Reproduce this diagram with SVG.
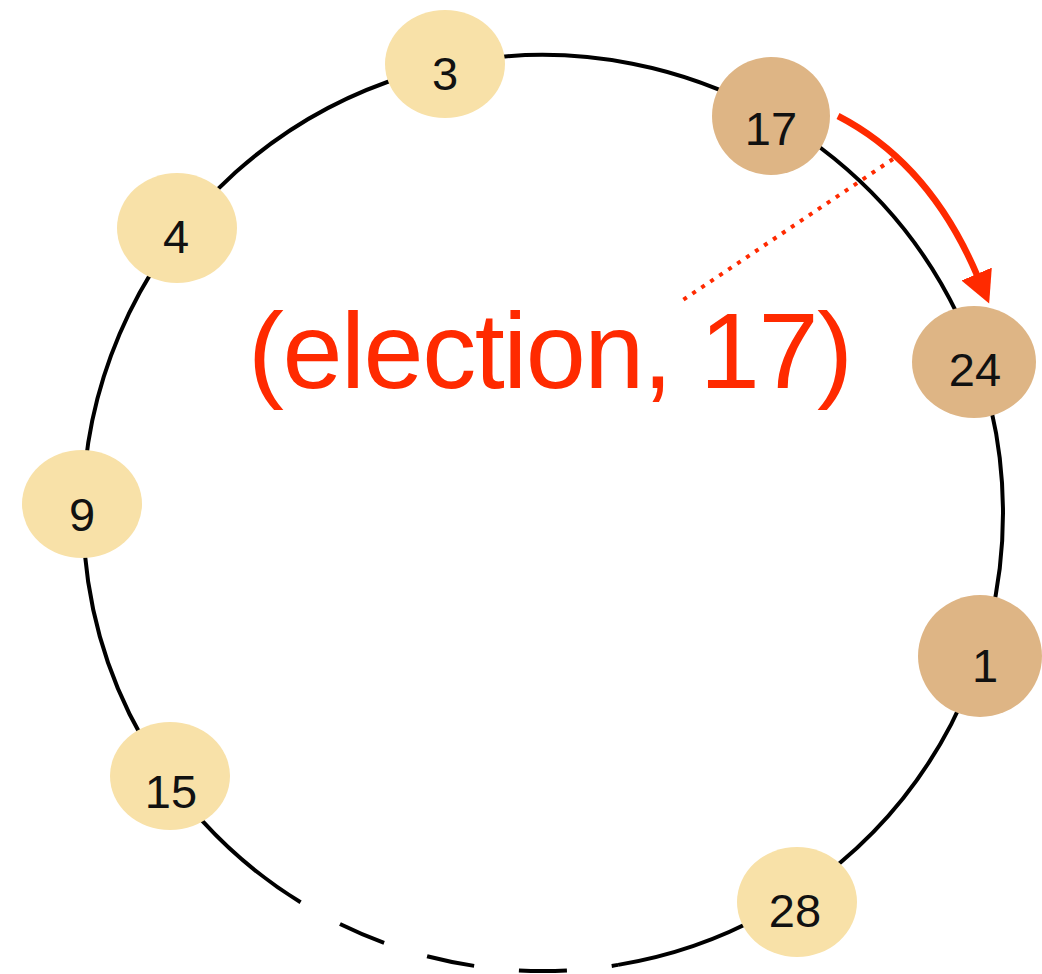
<svg xmlns="http://www.w3.org/2000/svg" width="1042" height="974" viewBox="0 0 1042 974">
  <style>
    .ring { fill: none; stroke: #000; stroke-width: 4; }
    .ring-gap { stroke-dasharray: 48 45; stroke-dashoffset: 48; }
    .node-light { fill: #F8E1A8; }
    .node-dark { fill: #DEB585; }
    .label { font-family: "Liberation Sans", Arial, sans-serif; font-size: 47px; fill: #111; text-anchor: middle; }
    .msg { fill: none; stroke: #FF2A00; }
    .msg-text { font-family: "Liberation Sans", Arial, sans-serif; font-size: 108px; fill: #FF2A00; }
  </style>
  <defs>
    <marker id="arrowhead" markerUnits="userSpaceOnUse" markerWidth="34" markerHeight="34" refX="1" refY="16.5" orient="auto" viewBox="0 0 34 34">
      <path d="M0,0 L32,16.5 L0,33 Z" fill="#FF2A00"/>
    </marker>
  </defs>

  <!-- ring of processes -->
  <g id="connectors">
    <path class="ring" d="M300.6,902.3 A460,458 0 1 1 618.1,964.9"/>
    <path class="ring ring-gap" d="M300.6,902.3 A460,458 0 0 0 618.1,964.9"/>
    <!-- election message passed from 17 to 24 -->
    <path class="msg" stroke-width="6.5" d="M838,116 C900,148 945,200 977,275" marker-end="url(#arrowhead)"/>
    <path class="msg" stroke-width="4" stroke-dasharray="4 6.8" d="M893,159 L680,302"/>
  </g>

  <g id="node-3">
    <ellipse class="node-light" cx="445" cy="64" rx="60" ry="54"/>
    <text class="label" x="445" y="90">3</text>
  </g>
  <g id="node-17">
    <ellipse class="node-dark" cx="771" cy="116" rx="59" ry="59"/>
    <text class="label" x="771" y="145">17</text>
  </g>
  <g id="node-24">
    <ellipse class="node-dark" cx="974" cy="362" rx="62" ry="56"/>
    <text class="label" x="975" y="386">24</text>
  </g>
  <g id="node-1">
    <ellipse class="node-dark" cx="980" cy="656" rx="62" ry="61"/>
    <text class="label" x="985" y="682">1</text>
  </g>
  <g id="node-28">
    <ellipse class="node-light" cx="797" cy="902" rx="60" ry="55"/>
    <text class="label" x="795" y="927">28</text>
  </g>
  <g id="node-15">
    <ellipse class="node-light" cx="170" cy="776" rx="60" ry="54"/>
    <text class="label" x="171" y="808">15</text>
  </g>
  <g id="node-9">
    <ellipse class="node-light" cx="82" cy="504" rx="60" ry="54"/>
    <text class="label" x="82" y="531">9</text>
  </g>
  <g id="node-4">
    <ellipse class="node-light" cx="177" cy="228" rx="60" ry="55"/>
    <text class="label" x="176" y="253">4</text>
  </g>

  <g id="message-label">
    <text class="msg-text" x="248" y="388" textLength="605" lengthAdjust="spacing">(election, 17)</text>
  </g>
</svg>
